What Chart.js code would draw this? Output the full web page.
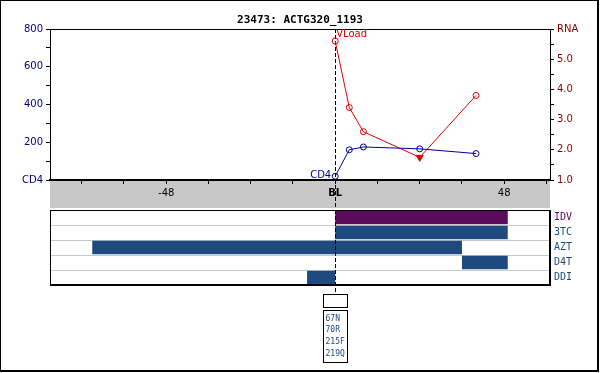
<!DOCTYPE html>
<html>
<head>
<meta charset="utf-8">
<script src="https://cdn.jsdelivr.net/npm/chart.js@4.4.1/dist/chart.umd.min.js"></script>
<style>
  body { margin: 0; background: #fff; }
  #wrap { position: relative; width: 600px; height: 373px; }
  #top { position: absolute; left: 0; top: 0; }
  #drugs { position: absolute; left: 0; top: 209px; }
  #frame { position: absolute; left: 0; top: 0; width: 596px; height: 369px;
           border-style: solid; border-color: #000; border-width: 1px 2px 2px 1px; pointer-events: none; }
</style>
</head>
<body>
<div id="wrap">
  <canvas id="top" width="600" height="209"></canvas>
  <canvas id="drugs" width="600" height="164"></canvas>
  <div id="frame"></div>
</div>
<script>
// data (weeks from baseline)
const title = '23473: ACTG320_1193';
const weeks = [0, 4, 8, 24, 40];
const cd4 = [20, 160, 175, 165, 140];
const rna = [5.6, 3.4, 2.6, 1.75, 3.8];
const rnaBelowLimit = [false, false, false, true, false];
const xTicks = [-72, -60, -48, -36, -24, -12, 0, 12, 24, 36, 48, 60];
const drugs = ['IDV', '3TC', 'AZT', 'D4T', 'DDI'];
const drugStart = [0, 0, -69, 36, -8];
const drugEnd = [49, 49, 36, 49, 0];
const mutations = ['67N', '70R', '215F', '219Q'];

const xMin = -81, xMax = 61;
const blue = '#0000a0', red = '#e00000';
const purple = '#5c0a5c', drugBlue = '#1f4a80';
const font = 'DejaVu Sans';
const mono = 'DejaVu Sans Mono';

function dashedAt(ctx, x, y1, y2) {
  ctx.save();
  ctx.strokeStyle = '#000';
  ctx.lineWidth = 1;
  ctx.setLineDash([4, 2]);
  ctx.beginPath();
  ctx.moveTo(Math.round(x) + 0.5, y1);
  ctx.lineTo(Math.round(x) + 0.5, y2);
  ctx.stroke();
  ctx.restore();
}

function fixWidth(s) {
  s.width = 50;
  s.paddingTop = 0;
  s.paddingBottom = 0;
}

const topExtras = {
  id: 'topExtras',
  beforeDraw(chart) {
    const ctx = chart.ctx, ca = chart.chartArea;
    ctx.save();
    ctx.fillStyle = '#c8c8c8';
    ctx.fillRect(ca.left, ca.bottom, ca.right - ca.left, 28);
    ctx.fillStyle = '#000';
    ctx.font = 'bold 11px ' + mono;
    ctx.textAlign = 'center';
    ctx.textBaseline = 'middle';
    ctx.fillText(title, 300, 20);
    ctx.restore();
  },
  beforeDatasetsDraw(chart) {
    const ca = chart.chartArea;
    dashedAt(chart.ctx, chart.scales.x.getPixelForValue(0), ca.top, ca.bottom + 28);
  },
  afterDatasetsDraw(chart) {
    const ctx = chart.ctx, ca = chart.chartArea;
    const x0 = chart.scales.x.getPixelForValue(weeks[0]);
    ctx.save();
    ctx.strokeStyle = '#000';
    ctx.lineWidth = 1;
    ctx.beginPath();
    ctx.moveTo(ca.left, ca.top + 0.5);
    ctx.lineTo(ca.right, ca.top + 0.5);
    ctx.stroke();
    ctx.font = '10px ' + font;
    ctx.textBaseline = 'middle';
    ctx.fillStyle = red;
    ctx.textAlign = 'left';
    ctx.fillText('VLoad', x0 + 1, ca.top + 5);
    ctx.fillStyle = blue;
    ctx.textAlign = 'right';
    ctx.fillText('CD4', x0 - 4, chart.scales.y.getPixelForValue(cd4[0]) - 1);
    ctx.restore();
  }
};

new Chart(document.getElementById('top'), {
  type: 'line',
  data: {
    datasets: [
      {
        data: weeks.map((w, i) => ({ x: w, y: cd4[i] })),
        yAxisID: 'y',
        borderColor: blue,
        borderWidth: 1,
        pointRadius: 3,
        pointBorderWidth: 1,
        pointBorderColor: blue,
        pointBackgroundColor: 'rgba(0,0,0,0)',
        tension: 0
      },
      {
        data: weeks.map((w, i) => ({ x: w, y: rna[i] })),
        yAxisID: 'y2',
        borderColor: red,
        borderWidth: 1,
        pointStyle: rnaBelowLimit.map(b => b ? 'triangle' : 'circle'),
        pointRotation: rnaBelowLimit.map(b => b ? 180 : 0),
        pointRadius: rnaBelowLimit.map(b => b ? 4 : 3),
        pointBorderWidth: 1,
        pointBorderColor: red,
        pointBackgroundColor: rnaBelowLimit.map(b => b ? red : 'rgba(0,0,0,0)'),
        tension: 0
      }
    ]
  },
  options: {
    responsive: false,
    animation: false,
    layout: { padding: { top: 29, left: 0, right: 0, bottom: 0 } },
    plugins: { legend: { display: false }, tooltip: { enabled: false } },
    scales: {
      x: {
        type: 'linear',
        min: xMin,
        max: xMax,
        afterFit: s => { s.height = 29; s.paddingLeft = 0; s.paddingRight = 0; },
        afterBuildTicks: s => { s.ticks = xTicks.map(v => ({ value: v })); },
        grid: { drawOnChartArea: false, tickLength: 4, color: '#000' },
        border: { color: '#000', width: 2 },
        ticks: {
          autoSkip: false,
          maxRotation: 0,
          padding: 3,
          color: '#000',
          font: c => ({ family: font, size: 10, weight: c.tick && c.tick.value === 0 ? 'bold' : 'normal' }),
          callback: v => v === 0 ? 'BL' : (v % 48 === 0 ? String(v) : '')
        }
      },
      y: {
        position: 'left',
        min: 0,
        max: 800,
        afterFit: fixWidth,
        grid: { drawOnChartArea: false, tickLength: 4, color: '#000' },
        border: { color: '#000', width: 1 },
        ticks: {
          stepSize: 100,
          autoSkip: false,
          padding: 3,
          color: '#000080',
          font: { family: font, size: 10 },
          callback: v => v === 0 ? 'CD4' : (v % 200 === 0 ? String(v) : '')
        }
      },
      y2: {
        position: 'right',
        min: 1,
        max: 6,
        afterFit: fixWidth,
        grid: { drawOnChartArea: false, tickLength: 4, color: '#000' },
        border: { color: '#000', width: 1 },
        ticks: {
          stepSize: 0.5,
          autoSkip: false,
          padding: 3,
          color: '#8b0000',
          font: { family: font, size: 10 },
          callback: v => v === 6 ? 'RNA' : (Number.isInteger(v) ? v.toFixed(1) : '')
        }
      }
    }
  },
  plugins: [topExtras]
});

const drugExtras = {
  id: 'drugExtras',
  afterDatasetsDraw(chart) {
    const ctx = chart.ctx, ca = chart.chartArea;
    const x0 = chart.scales.x.getPixelForValue(0);
    const bx = Math.round(x0) - 12 + 0.5;
    dashedAt(ctx, x0, ca.top, 85);
    ctx.save();
    ctx.strokeStyle = '#000';
    ctx.lineWidth = 1;
    ctx.strokeRect(ca.left + 0.5, ca.top + 0.5, ca.right - ca.left - 1, ca.bottom - ca.top - 1);
    ctx.fillStyle = '#000';
    ctx.fillRect(ca.left, ca.bottom - 1, ca.right - ca.left + 1, 2);
    ctx.fillRect(ca.right - 1, ca.top, 2, ca.bottom - ca.top);
    ctx.strokeRect(bx, 85.5, 24, 13);
    ctx.strokeRect(bx, 101.5, 24, 52);
    ctx.fillStyle = drugBlue;
    ctx.font = '8px ' + mono;
    ctx.textAlign = 'left';
    ctx.textBaseline = 'middle';
    mutations.forEach((m, i) => ctx.fillText(m, bx + 2, 109.5 + i * 11.7));
    ctx.restore();
  }
};

new Chart(document.getElementById('drugs'), {
  type: 'bar',
  data: {
    labels: drugs,
    datasets: [{
      data: drugs.map((d, i) => [drugStart[i], drugEnd[i]]),
      backgroundColor: drugs.map(d => d === 'IDV' ? purple : drugBlue),
      borderWidth: 0,
      categoryPercentage: 1,
      barPercentage: 0.9
    }]
  },
  options: {
    indexAxis: 'y',
    responsive: false,
    animation: false,
    layout: { padding: { top: 1, left: 50, right: 0, bottom: 88 } },
    plugins: { legend: { display: false }, tooltip: { enabled: false } },
    scales: {
      x: { type: 'linear', display: false, min: xMin, max: xMax },
      y: {
        position: 'right',
        afterFit: fixWidth,
        grid: { color: '#c8c8c8', drawTicks: false, offset: true },
        border: { display: false },
        ticks: {
          padding: 4,
          color: c => drugs[c.index] === 'IDV' ? purple : drugBlue,
          font: { family: mono, size: 10 }
        }
      }
    }
  },
  plugins: [drugExtras]
});
</script>
</body>
</html>
